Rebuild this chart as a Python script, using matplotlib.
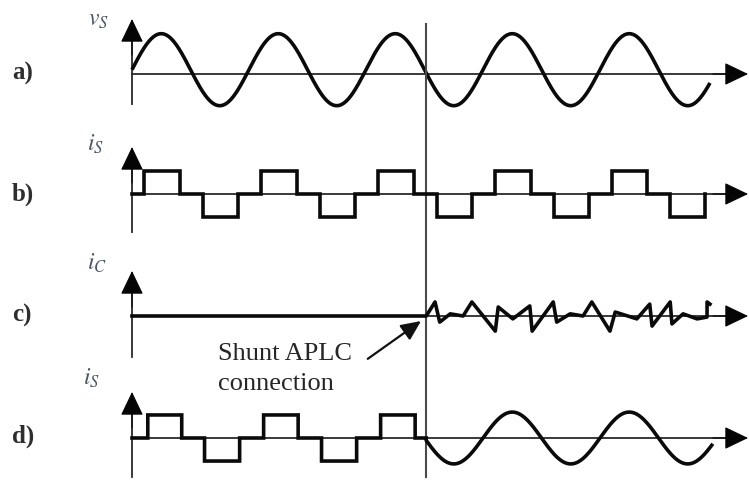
import numpy as np
import matplotlib
matplotlib.use("Agg")
import matplotlib.pyplot as plt

plt.rcParams['font.family'] = ['Liberation Serif', 'DejaVu Serif']
plt.rcParams['mathtext.fontset'] = 'stix'

# ---------------- data ----------------
panel_labels = ["a)", "b)", "c)", "d)"]
signal_names = [r"$v_S$", r"$i_S$", r"$i_C$", r"$i_S$"]
annotation_text = "Shunt APLC\nconnection"

period_ms = 20.0           # fundamental period (ms)
t_connect = 50.3           # instant the shunt filter is connected (ms)

# a) source voltage (sinusoid)
vs_amplitude = 1.0
vs_offset = 0.12
vs_end = 98.8

# b) source current, no filter: quasi-square wave (edge instants in ms, level after each edge)
is_edges = [2.0, 8.2, 12.1, 18.1, 22.0, 28.2, 32.1, 38.1, 42.0, 48.2,
            52.1, 58.1, 62.0, 68.2, 72.1, 78.1, 82.0, 88.1, 92.0, 97.9]
is_levels = [0, 0.64, 0, -0.64, 0, 0.64, 0, -0.64, 0, 0.64, 0,
             -0.64, 0, 0.64, 0, -0.64, 0, 0.64, 0, -0.64, 0]

# c) compensating current (vertices)
ic_t = [0.0, 50.3, 51.8, 52.6, 54.4, 56.6, 58.1, 62.1, 62.6, 65.1, 68.0, 68.4,
        72.0, 72.6, 74.9, 77.1, 78.6, 81.7, 82.6, 86.3, 88.5, 88.9,
        92.0, 92.3, 94.2, 96.6, 98.3, 98.3, 98.8]
ic_v = [0.0, 0.0, 0.39, -0.17, 0.06, 0.0, 0.39, -0.42, 0.25, -0.08, 0.28, -0.42,
        0.39, -0.17, 0.06, 0.0, 0.39, -0.42, 0.11, -0.08, 0.33, -0.28,
        0.39, -0.22, 0.06, -0.08, -0.03, 0.39, 0.33]

# d) source current with filter connected at t_connect
isd_edges = [2.7, 8.5, 12.4, 18.4, 22.5, 28.4, 32.4, 38.4, 42.5, 48.4]
isd_levels = [0, 0.64, 0, -0.64, 0, 0.64, 0, -0.64, 0, 0.64, 0]
isd_amplitude = 0.72
isd_end = 99.1

# ---------------- layout ----------------
W, H, DPI = 749, 485, 100
T0_PX = 132.0
PX_PER_MS = 117.0 / period_ms
PX_PER_UNIT = 36.0
rows = [75, 195, 317, 439]          # pixel row of each time axis
tops = [20, 148, 272, 393]          # arrow tip of vertical axes
bottoms = [105, 233, 358, 478]

WAVE_LW = 2.6
WAVE_C = "#0a0a0a"
AX_LW = 1.3
AX_C = "#2a2a2a"
HEAD_C = "#050505"

fig = plt.figure(figsize=(W / DPI, H / DPI), dpi=DPI)
fig.patch.set_facecolor("white")

xlim = (-T0_PX / PX_PER_MS, (W - T0_PX) / PX_PER_MS)
t_tip = (748 - T0_PX) / PX_PER_MS


def make_axes(row):
    ax = fig.add_axes([0, 0, 1, 1])
    ax.set_xlim(*xlim)
    ax.set_ylim(-(H - row) / PX_PER_UNIT, row / PX_PER_UNIT)
    ax.axis("off")
    ax.patch.set_alpha(0)
    return ax


def arrow(ax, x0, y0, x1, y1, lw=AX_LW, color=HEAD_C, hl=15.0, hw=7.2):
    ax.annotate("", xy=(x1, y1), xytext=(x0, y0),
                arrowprops=dict(arrowstyle=f"-|>,head_length={hl},head_width={hw}",
                                mutation_scale=1, lw=lw, color=color,
                                shrinkA=0, shrinkB=0))


def step_path(edges, levels, t_end):
    xs, ys = [0.0], [levels[0]]
    for e, prev, nxt in zip(edges, levels[:-1], levels[1:]):
        xs += [e, e]
        ys += [prev, nxt]
    xs.append(t_end)
    ys.append(levels[-1])
    return np.array(xs), np.array(ys)


axes = [make_axes(r) for r in rows]

for ax, r, tp, bt in zip(axes, rows, tops, bottoms):
    # thin axis lines
    ax.plot([0, t_tip - 2.0], [0, 0], color=AX_C, lw=AX_LW)
    ax.plot([0, 0], [-(bt - r) / PX_PER_UNIT, (r - tp) / PX_PER_UNIT - 0.3],
            color=AX_C, lw=AX_LW)
    # arrow heads
    arrow(ax, t_tip - 6.0, 0, t_tip, 0, lw=0.8)
    arrow(ax, 0, (r - tp) / PX_PER_UNIT - 1.0, 0, (r - tp) / PX_PER_UNIT, lw=0.8)

# a) source voltage
t = np.linspace(0, vs_end, 800)
axes[0].plot(t, vs_offset + vs_amplitude * np.sin(2 * np.pi * t / period_ms),
             color=WAVE_C, lw=WAVE_LW, solid_capstyle="butt")

# b) source current
xs, ys = step_path(is_edges, is_levels, is_edges[-1])
axes[1].plot(xs, ys, color=WAVE_C, lw=WAVE_LW, solid_joinstyle="miter")

# c) compensating current
axes[2].plot(ic_t, ic_v, color=WAVE_C, lw=WAVE_LW, solid_joinstyle="round")

# d) source current before/after connection
xs, ys = step_path(isd_edges, isd_levels, t_connect)
td = np.linspace(t_connect, isd_end, 500)
yd = isd_amplitude * np.sin(2 * np.pi * td / period_ms)
axes[3].plot(np.concatenate([xs, td]), np.concatenate([ys, yd]),
             color=WAVE_C, lw=WAVE_LW, solid_joinstyle="miter")

# connection instant line
axes[0].axvline(t_connect, ymin=1 - 478 / H, ymax=1 - 25 / H, color="#4a4a4a", lw=1.5)

# annotation
axes[2].annotate("", xy=(49.4, -0.14), xytext=(40.3, -1.19),
                 arrowprops=dict(arrowstyle="-|>,head_length=12,head_width=5.5",
                                 mutation_scale=1, lw=1.6, color="#111111",
                                 shrinkA=0, shrinkB=0))
axes[2].text(14.7, -1.445, annotation_text, ha="left", va="center",
             fontsize=19, color="#262626", linespacing=1.5)

# panel labels and signal names
label_rows = [73, 194, 315, 436]
for lab, r in zip(panel_labels, label_rows):
    fig.text(12 / W, 1 - r / H, lab, ha="left", va="center", fontsize=18,
             fontweight="bold", color="#2e2e2e")

name_pos = [(88, 21), (87, 144), (87, 263), (83, 378)]
for nm, (x, y) in zip(signal_names, name_pos):
    fig.text(x / W, 1 - y / H, nm, ha="left", va="center", fontsize=17,
             color="#4a5568")

fig.savefig("out.png", dpi=DPI, facecolor="white")
